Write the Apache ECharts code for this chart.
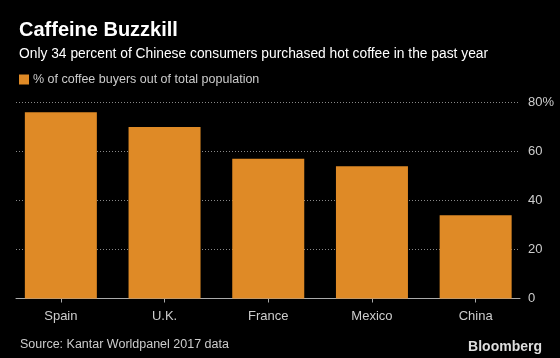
<!DOCTYPE html>
<html>
<head>
<meta charset="utf-8">
<script src="https://cdn.jsdelivr.net/npm/echarts@6/dist/echarts.min.js"></script>
<style>
html,body{margin:0;padding:0;background:#000;}
#c{width:560px;height:358px;}
</style>
</head>
<body>
<div id="c"></div>
<script>
const categories = ['Spain', 'U.K.', 'France', 'Mexico', 'China'];
const buyersShare = [76, 70, 57, 54, 34];
const yTicks = [0, 20, 40, 60, 80];
const seriesName = '% of coffee buyers out of total population';

const chart = echarts.init(document.getElementById('c'), null, {renderer: 'canvas'});
const font = '"Liberation Sans", Arial, sans-serif';
const option = {
  backgroundColor: '#000',
  animation: false,
  title: [
    {text: 'Caffeine Buzzkill', left: 14, top: 15,
     textStyle: {color: '#fff', fontSize: 20, fontWeight: 'bold', fontFamily: font}},
    {text: 'Only 34 percent of Chinese consumers purchased hot coffee in the past year', left: 14, top: 42,
     textStyle: {color: '#fff', fontSize: 13.8, fontWeight: 'normal', fontFamily: font}},
    {text: 'Source: Kantar Worldpanel 2017 data', left: 15, top: 333,
     textStyle: {color: '#ccc', fontSize: 12.5, fontWeight: 'normal', fontFamily: font}},
    {text: 'Bloomberg', right: 13, top: 335,
     textStyle: {color: '#ddd', fontSize: 14, fontWeight: 'bold', fontFamily: font}}
  ],
  legend: {
    left: 14, top: 68, itemWidth: 10, itemHeight: 10, itemGap: 6,
    icon: 'rect',
    textStyle: {color: '#ccc', fontSize: 12.5, fontFamily: font, padding: [0, 0, 0, -1]},
    data: [seriesName]
  },
  grid: [
    {left: 9, right: 32.5, top: 102.5, bottom: 59.5},
    {left: 16, right: 40, top: 102.5, bottom: 59.5}
  ],
  xAxis: [
    {type: 'category', gridIndex: 0, data: categories,
     axisLine: {show: false},
     axisTick: {show: true, alignWithLabel: true, length: 4, lineStyle: {color: '#aaa'}},
     axisLabel: {color: '#ccc', fontSize: 13, fontFamily: font, margin: 11}},
    {type: 'category', gridIndex: 1, data: categories,
     axisLine: {show: true, lineStyle: {color: '#aaa', width: 1}},
     axisTick: {show: false}, axisLabel: {show: false}}
  ],
  yAxis: [
    {type: 'value', gridIndex: 0, min: 0, max: 80, show: false},
    {type: 'value', gridIndex: 1, min: 0, max: 80, interval: 20, position: 'right',
     axisLine: {show: false}, axisTick: {show: false},
     splitLine: {show: true, lineStyle: {color: '#888', type: [1, 2], width: 1}},
     axisLabel: {color: '#ccc', fontSize: 13, fontFamily: font, margin: 8,
       formatter: v => yTicks.includes(v) ? (v === 80 ? v + '%' : String(v)) : ''}}
  ],
  series: [
    {name: seriesName, type: 'bar', xAxisIndex: 0, yAxisIndex: 0,
     data: buyersShare, barWidth: 72, itemStyle: {color: '#df8a26'}}
  ]
};
chart.setOption(option);
</script>
</body>
</html>
